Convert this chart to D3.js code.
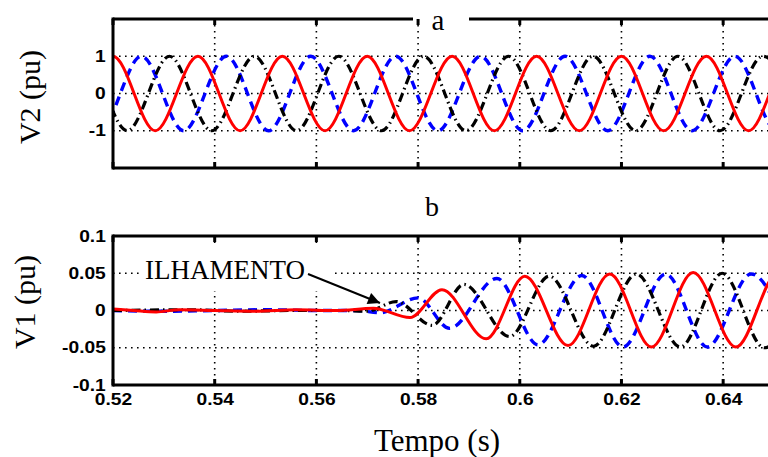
<!DOCTYPE html>
<html>
<head>
<meta charset="utf-8">
<script src="https://cdn.jsdelivr.net/npm/d3@7"></script>
<style>
  body { margin: 0; background: #fff; }
  svg { display: block; }
  .tick text { font-family: "Liberation Sans", Arial, sans-serif; font-weight: bold; font-size: 16px; fill: #000; }
  .serif { font-family: "Liberation Serif", "Times New Roman", serif; fill: #000; }
</style>
</head>
<body>
<div id="chart"></div>
<script>
// ticks
let xTicks = [0.52, 0.54, 0.56, 0.58, 0.6, 0.62, 0.64];
let xTickLabels = ['0.52', '0.54', '0.56', '0.58', '0.6', '0.62', '0.64'];
let v2Ticks = [-1, 0, 1];
let v2TickLabels = ['-1', '0', '1'];
let v1Ticks = [-0.1, -0.05, 0, 0.05, 0.1];
let v1TickLabels = ['-0.1', '-0.05', '0', '0.05', '0.1'];
let v2Grid = [-1, 0, 1];
let v1Grid = [-0.05, 0, 0.05];

// panel a : V2 (pu), extrema [t, v]
let v2Red = [[0.5117,-1],[0.5200,1],[0.5283,-1],[0.5367,1],[0.5450,-1],[0.5533,1],[0.5617,-1],[0.5700,1],[0.5783,-1],
  [0.5867,1],[0.5950,-1],[0.6033,1],[0.6117,-1],[0.6200,1],[0.6283,-1],[0.6367,1],[0.6450,-1],[0.6533,1],[0.6617,-1]];
let v2Blue = [[0.5089,1],[0.5173,-1],[0.5256,1],[0.5339,-1],[0.5423,1],[0.5506,-1],[0.5589,1],[0.5673,-1],[0.5756,1],
  [0.5839,-1],[0.5923,1],[0.6006,-1],[0.6089,1],[0.6173,-1],[0.6256,1],[0.6339,-1],[0.6423,1],[0.6506,-1],[0.6589,1]];
let v2Black = [[0.5061,-1],[0.5144,1],[0.5228,-1],[0.5311,1],[0.5394,-1],[0.5478,1],[0.5561,-1],[0.5644,1],[0.5728,-1],
  [0.5811,1],[0.5894,-1],[0.5978,1],[0.6061,-1],[0.6144,1],[0.6228,-1],[0.6311,1],[0.6394,-1],[0.6478,1],[0.6561,-1]];

// panel b : V1 (pu)
let v1Red = [[0.5200,0.002],[0.5240,0.000],[0.5285,-0.002],[0.5330,0.001],[0.5400,0.000],[0.5480,-0.001],[0.5560,0.001],
  [0.5640,0.000],[0.5712,0.003],[0.5784,-0.0095],[0.5847,0.028],[0.5934,-0.038],[0.6010,0.046],[0.6095,-0.047],
  [0.6177,0.049],[0.6259,-0.049],[0.6341,0.051],[0.6425,-0.049],[0.6508,0.050],[0.6592,-0.050]];
let v1Blue = [[0.5200,0.000],[0.5300,-0.001],[0.5400,0.000],[0.5500,0.001],[0.5600,0.000],[0.5680,0.000],[0.5725,-0.003],
  [0.5800,0.017],[0.5862,-0.024],[0.5955,0.043],[0.6036,-0.046],[0.6122,0.047],[0.6203,-0.049],[0.6287,0.049],
  [0.6369,-0.049],[0.6455,0.049],[0.6537,-0.050]];
let v1Black = [[0.5200,0.000],[0.5350,0.001],[0.5450,-0.001],[0.5550,0.000],[0.5650,0.000],[0.5700,-0.001],[0.5757,0.012],
  [0.5828,-0.020],[0.5890,0.035],[0.5980,-0.035],[0.6058,0.046],[0.6145,-0.048],[0.6229,0.049],[0.6316,-0.049],
  [0.6398,0.050],[0.6481,-0.050],[0.6565,0.050]];

let width = 768, height = 457;
let x0 = 113, x1 = 774;

let x = d3.scaleLinear().domain([0.52, 0.65]).range([x0, x1]);
let yA = d3.scaleLinear().domain([-2, 2]).range([168, 19]);
let yB = d3.scaleLinear().domain([-0.1, 0.1]).range([385, 236]);

let svg = d3.select('#chart').append('svg')
  .attr('width', width).attr('height', height);

let styles = [
  {color: '#0000ff', dash: '9,6', w: 3.4},
  {color: '#000000', dash: '9,4,1.5,4', w: 3.2},
  {color: '#ff0000', dash: null, w: 3}
];

function panel(id, y, grid, ticks, tickLabels, series, showXLabels, mask) {
  let g = svg.append('g');
  let top = y.range()[1], bottom = y.range()[0];

  svg.append('clipPath').attr('id', id)
    .append('rect').attr('x', x0).attr('y', top).attr('width', x1 - x0).attr('height', bottom - top);

  let inner = g.append('g').attr('clip-path', `url(#${id})`);

  // dotted grid
  inner.selectAll('.hgrid').data(grid).enter().append('line')
    .attr('x1', x0).attr('x2', x1)
    .attr('y1', d => y(d)).attr('y2', d => y(d))
    .attr('stroke', '#000').attr('stroke-width', 1.6).attr('stroke-dasharray', '1.6,4.4');
  inner.selectAll('.vgrid').data(xTicks.slice(1)).enter().append('line')
    .attr('x1', d => x(d)).attr('x2', d => x(d))
    .attr('y1', top).attr('y2', bottom)
    .attr('stroke', '#000').attr('stroke-width', 1.6).attr('stroke-dasharray', '1.6,4.4');

  if (mask) {
    inner.append('rect').attr('x', mask[0]).attr('y', mask[1]).attr('width', mask[2]).attr('height', mask[3])
      .attr('fill', '#fff');
  }

  let line = d3.line().x(d => x(d[0])).y(d => y(d[1])).curve(d3.curveMonotoneX);
  series.forEach((s, i) => {
    let st = styles[i];
    inner.append('path').datum(s)
      .attr('d', line)
      .attr('fill', 'none')
      .attr('stroke', st.color)
      .attr('stroke-width', st.w)
      .attr('stroke-dasharray', st.dash);
  });

  // tick marks on top and bottom, inward
  g.selectAll('.ttick').data(xTicks).enter().append('line')
    .attr('x1', d => x(d)).attr('x2', d => x(d))
    .attr('y1', top).attr('y2', top + 6)
    .attr('stroke', '#000').attr('stroke-width', 3);
  g.selectAll('.btick').data(xTicks).enter().append('line')
    .attr('x1', d => x(d)).attr('x2', d => x(d))
    .attr('y1', bottom).attr('y2', bottom - 6)
    .attr('stroke', '#000').attr('stroke-width', 3);

  // y axis labels
  let ya = g.append('g').attr('transform', `translate(${x0},0)`)
    .call(d3.axisLeft(y).tickValues(ticks).tickFormat((d, i) => tickLabels[i]).tickSize(0).tickPadding(6));
  ya.select('.domain').remove();
  ya.selectAll('text').attr('transform', 'scale(1.2,1)');

  if (showXLabels) {
    let xa = g.append('g').attr('transform', `translate(0,${bottom})`)
      .call(d3.axisBottom(x).tickValues(xTicks).tickFormat((d, i) => xTickLabels[i]).tickSize(0).tickPadding(9));
    xa.select('.domain').remove();
    xa.selectAll('text').attr('transform', 'scale(1.2,1)');
  }

  return g;
}

let gA = panel('clipA', yA, v2Grid, v2Ticks, v2TickLabels, [v2Blue, v2Black, v2Red], false, null);
let gB = panel('clipB', yB, v1Grid, v1Ticks, v1TickLabels, [v1Blue, v1Black, v1Red], true, [142, 243, 192, 48]);

// frames
function frame(g, y, gap) {
  let top = y.range()[1], bottom = y.range()[0];
  let f = g.append('g').attr('stroke', '#000').attr('stroke-width', 3).attr('fill', 'none');
  f.append('line').attr('x1', x0).attr('x2', x0).attr('y1', top - 1.5).attr('y2', bottom + 1.5);
  f.append('line').attr('x1', x1).attr('x2', x1).attr('y1', top - 1.5).attr('y2', bottom + 1.5);
  f.append('line').attr('x1', x0).attr('x2', x1).attr('y1', bottom).attr('y2', bottom);
  if (gap) {
    f.append('line').attr('x1', x0).attr('x2', gap[0]).attr('y1', top).attr('y2', top);
    f.append('line').attr('x1', gap[1]).attr('x2', x1).attr('y1', top).attr('y2', top);
  } else {
    f.append('line').attr('x1', x0).attr('x2', x1).attr('y1', top).attr('y2', top);
  }
}
frame(gA, yA, [413, 469]);
frame(gB, yB, null);

// panel titles
svg.append('text').attr('class', 'serif').attr('x', 438).attr('y', 30)
  .attr('text-anchor', 'middle').style('font-size', '29px').text('a');
svg.append('text').attr('class', 'serif').attr('x', 432).attr('y', 216)
  .attr('text-anchor', 'middle').style('font-size', '28px').text('b');

// axis titles
svg.append('text').attr('class', 'serif')
  .attr('transform', 'translate(40,97) rotate(-90)')
  .attr('text-anchor', 'middle').style('font-size', '30px').text('V2 (pu)');
svg.append('text').attr('class', 'serif')
  .attr('transform', 'translate(35,302) rotate(-90)')
  .attr('text-anchor', 'middle').style('font-size', '30px').text('V1 (pu)');
svg.append('text').attr('class', 'serif').attr('x', 437).attr('y', 451)
  .attr('text-anchor', 'middle').style('font-size', '31px').text('Tempo (s)');

// annotation
svg.append('text').attr('class', 'serif').attr('x', 145).attr('y', 279)
  .style('font-size', '27px').text('ILHAMENTO');

svg.append('defs').append('marker')
  .attr('id', 'head').attr('viewBox', '0 0 10 10').attr('refX', 10).attr('refY', 5)
  .attr('markerWidth', 7).attr('markerHeight', 6).attr('markerUnits', 'strokeWidth')
  .attr('orient', 'auto')
  .append('path').attr('d', 'M0,0L10,5L0,10Z').attr('fill', '#000');

svg.append('line')
  .attr('x1', 308).attr('y1', 274).attr('x2', 380).attr('y2', 303)
  .attr('stroke', '#000').attr('stroke-width', 2)
  .attr('marker-end', 'url(#head)');
</script>
</body>
</html>
